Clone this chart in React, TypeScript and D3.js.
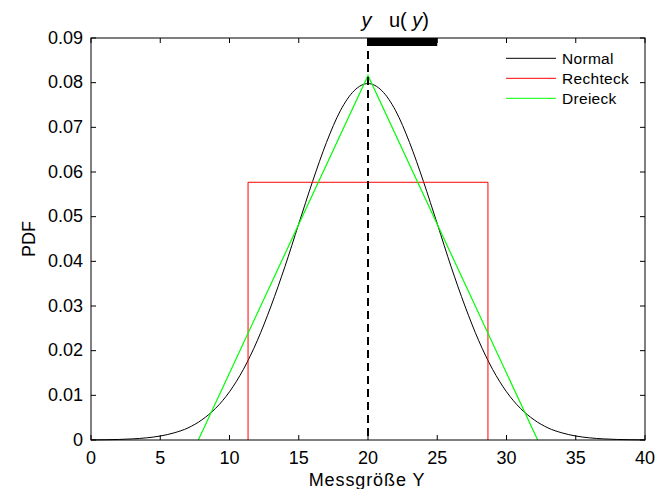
import React from "react";
import * as d3 from "d3";

const width = 658;
const height = 489;
const margin = { top: 38, right: 13, bottom: 49, left: 91 };

// Normal PDF read at integer steps of Y
const normalX = d3.range(0, 41);
const normalY = [
  0.00003, 0.00006, 0.00012, 0.00025, 0.00048, 0.00089, 0.0016, 0.0027, 0.0045, 0.0071,
  0.0108, 0.0158, 0.0222, 0.03, 0.0388, 0.0484, 0.0579, 0.0666, 0.0737, 0.0782,
  0.0798,
  0.0782, 0.0737, 0.0666, 0.0579, 0.0484, 0.0388, 0.03, 0.0222, 0.0158, 0.0108,
  0.0071, 0.0045, 0.0027, 0.0016, 0.00089, 0.00048, 0.00025, 0.00012, 0.00006, 0.00003,
];

// Rechteck (rectangular) corners
const rectX = [11.34, 11.34, 28.66, 28.66];
const rectY = [0, 0.0577, 0.0577, 0];

// Dreieck (triangular) corners
const triX = [7.75, 20, 32.25];
const triY = [0, 0.0816, 0];

const meanY = 20;
const uncertainty = 5;

const xTicks = [0, 5, 10, 15, 20, 25, 30, 35, 40];
const yTicks = [0, 0.01, 0.02, 0.03, 0.04, 0.05, 0.06, 0.07, 0.08, 0.09];

const legendNames = ["Normal", "Rechteck", "Dreieck"];
const legendColors = ["#000000", "#ff0000", "#00ff00"];

const font = "'Liberation Sans', Arial, sans-serif";

export default function App() {
  const innerWidth = width - margin.left - margin.right;
  const innerHeight = height - margin.top - margin.bottom;

  const x = d3.scaleLinear().domain([0, 40]).range([0, innerWidth]);
  const y = d3.scaleLinear().domain([0, 0.09]).range([innerHeight, 0]);

  const smooth = d3
    .line<number>()
    .x((d, i) => x(normalX[i]))
    .y((d) => y(d))
    .curve(d3.curveMonotoneX);

  const straight = d3
    .line<[number, number]>()
    .x((d) => x(d[0]))
    .y((d) => y(d[1]));

  const rectPts = rectX.map((v, i) => [v, rectY[i]] as [number, number]);
  const triPts = triX.map((v, i) => [v, triY[i]] as [number, number]);

  return (
    <svg
      width={width}
      height={height}
      style={{ position: "absolute", left: 0, top: 0, background: "white" }}
      fontFamily={font}
    >
      <rect width={width} height={height} fill="white" />
      <g transform={`translate(${margin.left},${margin.top})`}>
        {/* series */}
        <path d={smooth(normalY) ?? ""} fill="none" stroke="#000" strokeWidth={1} />
        <path d={straight(rectPts) ?? ""} fill="none" stroke="#ff0000" strokeWidth={1} />
        <path d={straight(triPts) ?? ""} fill="none" stroke="#00ff00" strokeWidth={1.2} />

        {/* mean and uncertainty marker */}
        <line
          x1={x(meanY)}
          x2={x(meanY)}
          y1={0}
          y2={innerHeight}
          stroke="#000"
          strokeWidth={2}
          strokeDasharray="8,5"
        />
        <rect
          x={x(meanY)}
          y={0}
          width={x(meanY + uncertainty) - x(meanY)}
          height={8}
          fill="#000"
        />
        <text x={x(meanY) - 1.5} y={-11} fontSize={20} textAnchor="middle" fontStyle="italic">
          y
        </text>
        <text x={x(meanY) + 21} y={-11} fontSize={20}>
          u(<tspan fontStyle="italic"> y</tspan>)
        </text>

        {/* frame */}
        <rect width={innerWidth} height={innerHeight} fill="none" stroke="#000" strokeWidth={1} />

        {xTicks.map((t) => (
          <g key={`x${t}`}>
            <line x1={x(t)} x2={x(t)} y1={innerHeight} y2={innerHeight - 5} stroke="#000" />
            <line x1={x(t)} x2={x(t)} y1={0} y2={5} stroke="#000" />
            <text x={x(t)} y={innerHeight + 23.5} fontSize={18} textAnchor="middle">
              {t}
            </text>
          </g>
        ))}

        {yTicks.map((t) => (
          <g key={`y${t}`}>
            <line x1={0} x2={5} y1={y(t)} y2={y(t)} stroke="#000" />
            <line x1={innerWidth} x2={innerWidth - 5} y1={y(t)} y2={y(t)} stroke="#000" />
            <text x={-8} y={y(t) + 5.5} fontSize={18} textAnchor="end">
              {t === 0 ? "0" : t.toFixed(2)}
            </text>
          </g>
        ))}

        {/* legend */}
        {legendNames.map((name, i) => (
          <g key={name} transform={`translate(${415},${20.3 + i * 20})`}>
            <line x1={0} x2={50} y1={0} y2={0} stroke={legendColors[i]} strokeWidth={1} />
            <text x={56} y={6} fontSize={15.5} letterSpacing={0.3}>
              {name}
            </text>
          </g>
        ))}

        {/* axis titles */}
        <text
          x={innerWidth / 2 - 1}
          y={innerHeight + 46}
          fontSize={18}
          letterSpacing={0.9}
          textAnchor="middle"
        >
          Messgröße Y
        </text>
        <text
          transform={`translate(${-56},${y(0.045)}) rotate(-90)`}
          fontSize={18}
          textAnchor="middle"
        >
          PDF
        </text>
      </g>
    </svg>
  );
}
